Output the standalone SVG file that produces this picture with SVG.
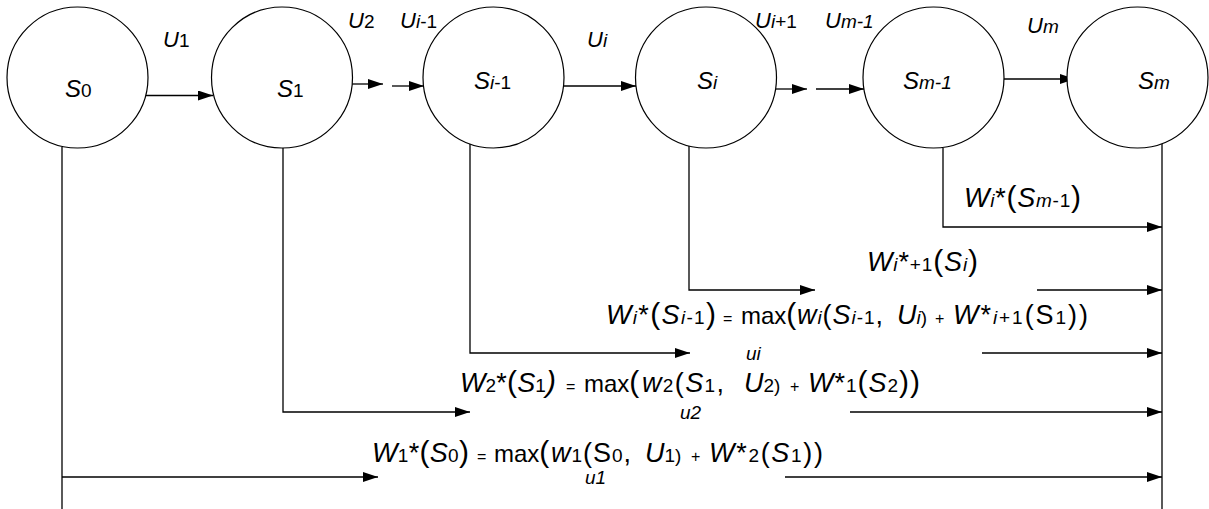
<svg xmlns="http://www.w3.org/2000/svg" width="1209" height="509" viewBox="0 0 1209 509">
<style>
text{font-family:"Liberation Sans",Arial,sans-serif;fill:#000;font-size:24px}
.f{font-size:27px}
.i{font-style:italic}
.s{font-size:19px}
.n{font-size:19px}
.p{font-size:30px}
.o{font-size:16px}
.m{font-size:24px}
.u{font-size:22px}
.l{font-size:19px;font-style:italic}
circle{fill:#fff;stroke:#000;stroke-width:1.2}
.c line,.c polyline{stroke:#000;stroke-width:1.3;fill:none}
</style>
<defs>
<marker id="ah" markerWidth="15" markerHeight="10" refX="15" refY="5" orient="auto" markerUnits="userSpaceOnUse">
<path d="M0,0 L15,5 L0,10 z" fill="#000"/>
</marker>
</defs>
<g class="c" id="connectors">
<line x1="146" y1="95.5" x2="213" y2="95.5" marker-end="url(#ah)"/>
<line x1="352" y1="84" x2="383" y2="84" marker-end="url(#ah)"/>
<line x1="392" y1="86" x2="424" y2="86" marker-end="url(#ah)"/>
<line x1="564" y1="86" x2="636" y2="86" marker-end="url(#ah)"/>
<line x1="776" y1="89" x2="807" y2="89" marker-end="url(#ah)"/>
<line x1="816" y1="89" x2="864" y2="89" marker-end="url(#ah)"/>
<line x1="1004" y1="79" x2="1075" y2="79" marker-end="url(#ah)"/>
<line x1="62" y1="147" x2="62" y2="509"/>
<line x1="1162" y1="144" x2="1162" y2="509"/>
<polyline points="943,148 943,227 1162,227" marker-end="url(#ah)"/>
<polyline points="689,146 689,290 815,290" marker-end="url(#ah)"/>
<line x1="1037" y1="290" x2="1162" y2="290" marker-end="url(#ah)"/>
<polyline points="470,144 470,353 690,353" marker-end="url(#ah)"/>
<line x1="982" y1="353" x2="1162" y2="353" marker-end="url(#ah)"/>
<polyline points="283,148 283,412 470,412" marker-end="url(#ah)"/>
<line x1="850" y1="412" x2="1162" y2="412" marker-end="url(#ah)"/>
<line x1="62" y1="477" x2="378" y2="477" marker-end="url(#ah)"/>
<line x1="785" y1="477" x2="1162" y2="477" marker-end="url(#ah)"/>
</g>
<g id="S0"><circle cx="77.5" cy="77.5" r="70.5"/><text x="65" y="97"><tspan class="i">S</tspan><tspan class="n">0</tspan></text></g>
<g id="S1"><circle cx="282" cy="77.5" r="70.5"/><text x="277" y="97"><tspan class="i">S</tspan><tspan class="n">1</tspan></text></g>
<g id="Si-1"><circle cx="493.5" cy="77.5" r="70.5"/><text x="474" y="89"><tspan class="i">S</tspan><tspan class="n i">i</tspan><tspan class="n">-1</tspan></text></g>
<g id="Si"><circle cx="706" cy="77.5" r="70.5"/><text x="697" y="89"><tspan class="i">S</tspan><tspan class="n i">i</tspan></text></g>
<g id="Sm-1"><circle cx="933.5" cy="77.5" r="70.5"/><text x="903" y="89"><tspan class="i">S</tspan><tspan class="n i">m-1</tspan></text></g>
<g id="Sm"><circle cx="1137.5" cy="77.5" r="70.5"/><text x="1138" y="89"><tspan class="i">S</tspan><tspan class="n i">m</tspan></text></g>
<g id="labels">
<text x="163" y="47" class="u"><tspan class="i">U</tspan><tspan class="s">1</tspan></text>
<text x="348" y="28" class="u"><tspan class="i">U</tspan><tspan class="s">2</tspan></text>
<text x="400" y="28" class="u"><tspan class="i">U</tspan><tspan class="s i">i</tspan><tspan class="s">-1</tspan></text>
<text x="587" y="47" class="u"><tspan class="i">U</tspan><tspan class="s i">i</tspan></text>
<text x="755" y="28" class="u"><tspan class="i">U</tspan><tspan class="s i">i</tspan><tspan class="s">+1</tspan></text>
<text x="825" y="28" class="u"><tspan class="i">U</tspan><tspan class="s i">m-1</tspan></text>
<text x="1027" y="33" class="u"><tspan class="i">U</tspan><tspan class="s i">m</tspan></text>
<text x="964" y="207" class="f" textLength="117" lengthAdjust="spacing"><tspan class="i">W</tspan><tspan class="s i">i</tspan><tspan>*</tspan><tspan class="p">(</tspan><tspan class="i">S</tspan><tspan class="s i">m</tspan><tspan class="s">-1</tspan><tspan class="p">)</tspan></text>
<text x="867" y="271" class="f" textLength="111" lengthAdjust="spacing"><tspan class="i">W</tspan><tspan class="s i">i</tspan><tspan>*</tspan><tspan class="s">+1</tspan><tspan class="p">(</tspan><tspan class="i">S</tspan><tspan class="s i">i</tspan><tspan class="p">)</tspan></text>
</g>
<g id="formula-i">
<text x="606" y="324" class="f" textLength="110" lengthAdjust="spacing"><tspan class="i">W</tspan><tspan class="s i">i</tspan><tspan>*</tspan><tspan class="p">(</tspan><tspan class="i">S</tspan><tspan class="s i">i</tspan><tspan class="s">-1</tspan><tspan class="p">)</tspan></text>
<text x="723" y="324" class="o">=</text>
<text x="741" y="324"><tspan class="m">max</tspan><tspan class="p">(</tspan></text>
<text x="797" y="324" class="f" textLength="86" lengthAdjust="spacing"><tspan class="i">w</tspan><tspan class="s i">i</tspan><tspan>(</tspan><tspan class="i">S</tspan><tspan class="s i">i</tspan><tspan class="s">-1</tspan><tspan>,</tspan></text>
<text x="897" y="324" class="f"><tspan class="i">U</tspan><tspan class="s i">i</tspan><tspan class="s">)</tspan></text>
<text x="935" y="324" class="o">+</text>
<text x="953" y="324" class="f" textLength="135" lengthAdjust="spacing"><tspan class="i">W</tspan><tspan>*</tspan><tspan class="s i">i</tspan><tspan class="s">+1</tspan><tspan>(S</tspan><tspan class="s">1</tspan><tspan>))</tspan></text>
<text x="746" y="360" class="l">u<tspan>i</tspan></text>
</g>
<g id="formula-2">
<text x="460" y="392" class="f" textLength="96" lengthAdjust="spacing"><tspan class="i">W</tspan><tspan class="s">2</tspan><tspan>*</tspan><tspan class="p">(</tspan><tspan class="i">S</tspan><tspan class="s">1</tspan><tspan class="p i">)</tspan></text>
<text x="566" y="392" class="o">=</text>
<text x="584" y="392"><tspan class="m">max</tspan><tspan class="p">(</tspan></text>
<text x="642" y="392" class="f" textLength="82" lengthAdjust="spacing"><tspan class="i">w</tspan><tspan class="s">2</tspan><tspan>(</tspan><tspan class="i">S</tspan><tspan class="s">1</tspan><tspan>,</tspan></text>
<text x="744" y="392" class="f"><tspan class="i">U</tspan><tspan class="s">2</tspan><tspan class="s">)</tspan></text>
<text x="790" y="392" class="o">+</text>
<text x="808" y="392" class="f" textLength="112" lengthAdjust="spacing"><tspan class="i">W</tspan><tspan>*</tspan><tspan class="s">1</tspan><tspan class="p">(</tspan><tspan class="i">S</tspan><tspan class="s">2</tspan><tspan class="p">))</tspan></text>
<text x="680" y="419" class="l">u2</text>
</g>
<g id="formula-1">
<text x="372" y="462" class="f" textLength="97" lengthAdjust="spacing"><tspan class="i">W</tspan><tspan class="s">1</tspan><tspan>*</tspan><tspan class="p">(</tspan><tspan class="i">S</tspan><tspan class="s">0</tspan><tspan class="p">)</tspan></text>
<text x="477" y="462" class="o">=</text>
<text x="494" y="462"><tspan class="m">max</tspan><tspan class="p">(</tspan></text>
<text x="551" y="462" class="f" textLength="80" lengthAdjust="spacing"><tspan class="i">w</tspan><tspan class="s">1</tspan><tspan>(S</tspan><tspan class="s">0</tspan><tspan>,</tspan></text>
<text x="645" y="462" class="f"><tspan class="i">U</tspan><tspan class="s">1</tspan><tspan class="s">)</tspan></text>
<text x="691" y="462" class="o">+</text>
<text x="709" y="462" class="f" textLength="114" lengthAdjust="spacing"><tspan class="i">W</tspan><tspan>*</tspan><tspan class="s">2</tspan><tspan>(</tspan><tspan class="i">S</tspan><tspan class="s">1</tspan><tspan>))</tspan></text>
<text x="585" y="484" class="l">u1</text>
</g>
</svg>
